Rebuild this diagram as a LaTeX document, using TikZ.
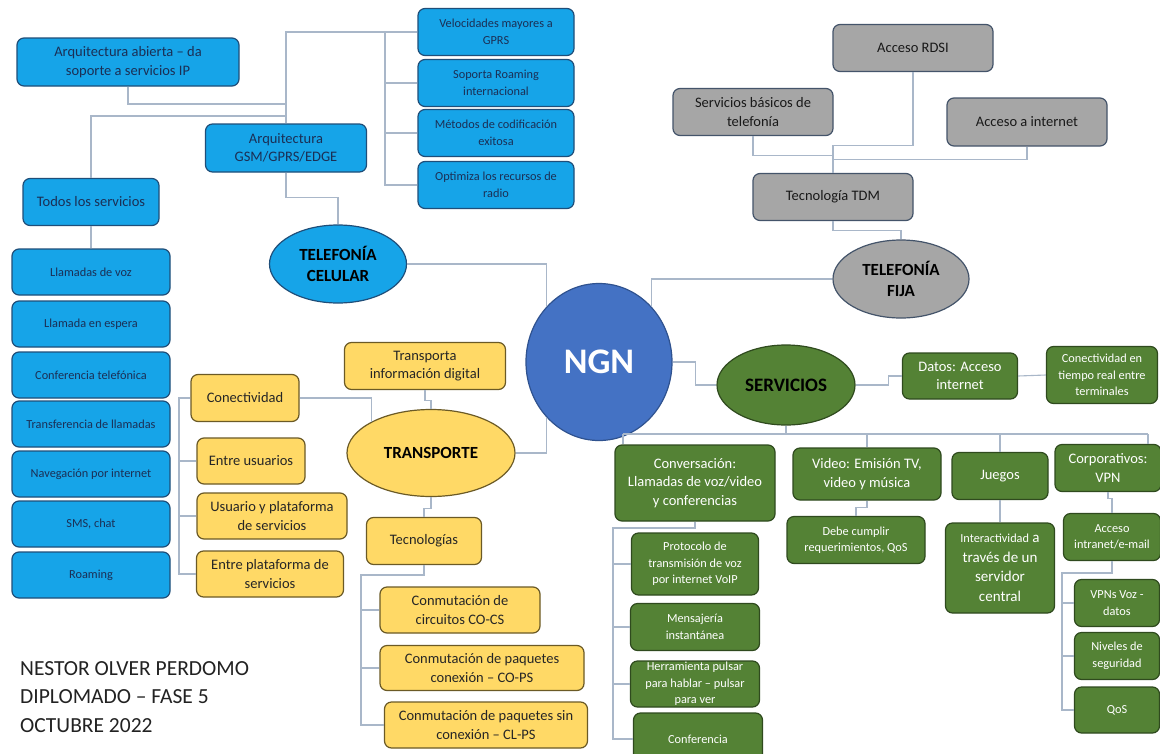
\documentclass[tikz,border=0pt]{standalone}
\usepackage{fontspec}
\setmainfont{Carlito}
\usetikzlibrary{shapes.geometric}

\definecolor{bluefill}{HTML}{16A4E8}
\definecolor{blueline}{HTML}{1F4E79}
\definecolor{bluetext}{HTML}{1B2F55}
\definecolor{yellowfill}{HTML}{FFD966}
\definecolor{yellowline}{HTML}{6B5A26}
\definecolor{grayfill}{HTML}{A6A6A6}
\definecolor{grayline}{HTML}{44546A}
\definecolor{greenfill}{HTML}{548235}
\definecolor{greenline}{HTML}{2F4A1E}
\definecolor{ngnfill}{HTML}{4472C4}
\definecolor{ngnline}{HTML}{2F528F}
\definecolor{linec}{HTML}{A9B7C9}
\definecolor{footc}{HTML}{222222}

\newcommand\fbig{\fontsize{14.5}{18.5}\selectfont}
\newcommand\fsmall{\fontsize{12.3}{16.5}\selectfont}
\newcommand\fhead{\fontsize{17}{21}\selectfont\bfseries}
\newcommand\ffoot{\fontsize{21.5}{28.5}\selectfont}

\tikzset{
  box/.style={rounded corners=7pt,line width=1.2pt,align=center,inner sep=0pt,font=\fbig},
  bluebox/.style={box,draw=blueline,fill=bluefill,text=bluetext},
  yellowbox/.style={box,draw=yellowline,fill=yellowfill,text=black!85},
  graybox/.style={box,draw=grayline,fill=grayfill,text=black!90},
  greenbox/.style={box,draw=greenline,fill=greenfill,text=white},
  topic/.style={ellipse,line width=1.2pt,align=center,inner sep=0pt,font=\fhead},
  conn/.style={draw=linec,line width=1.1pt},
}

\begin{document}
\begin{tikzpicture}[x=1pt,y=-1pt]
\clip (0,0) rectangle (1160,753);
\fill[white] (0,0) rectangle (1160,753);

% centro
\node[ellipse,draw=ngnline,fill=ngnfill,line width=1.2pt,minimum width=146,minimum height=157,text=white,font=\fontsize{36}{40}\selectfont\bfseries] (ngn) at (599,362) {NGN};

% telefonia celular
\node[bluebox,minimum width=222,minimum height=48] (abierta) at (128,62) {Arquitectura abierta – da\\soporte a servicios IP};
\node[bluebox,minimum width=161,minimum height=48] (gsm) at (286,148) {Arquitectura\\GSM/GPRS/EDGE};
\node[bluebox,minimum width=136,minimum height=47] (todos) at (91,202) {Todos los servicios};
\node[bluebox,font=\fsmall,minimum width=156,minimum height=47] (velo) at (496,32) {Velocidades mayores a\\GPRS};
\node[bluebox,font=\fsmall,minimum width=156,minimum height=47] (roam) at (496,83) {Soporta Roaming\\internacional};
\node[bluebox,font=\fsmall,minimum width=156,minimum height=47] (metod) at (496,133) {Métodos de codificación\\exitosa};
\node[bluebox,font=\fsmall,minimum width=156,minimum height=47] (optim) at (496,185) {Optimiza los recursos de\\radio};
\node[bluebox,font=\fsmall,minimum width=158,minimum height=46] (voz) at (91,272) {Llamadas de voz};
\node[bluebox,font=\fsmall,minimum width=158,minimum height=46] (espera) at (91,324) {Llamada en espera};
\node[bluebox,font=\fsmall,minimum width=158,minimum height=46] (confer) at (91,375) {Conferencia telefónica};
\node[bluebox,font=\fsmall,minimum width=158,minimum height=46] (transf) at (91,424) {Transferencia de llamadas};
\node[bluebox,font=\fsmall,minimum width=158,minimum height=46] (naveg) at (91,474) {Navegación por internet};
\node[bluebox,font=\fsmall,minimum width=158,minimum height=46] (sms) at (91,524) {SMS, chat};
\node[bluebox,font=\fsmall,minimum width=158,minimum height=46] (roaming) at (91,575) {Roaming};
\node[topic,draw=blueline,fill=bluefill,minimum width=137,minimum height=78] (cel) at (338,264) {TELEFONÍA\\CELULAR};

\coordinate (gtrunka) at (286,104);
\coordinate (gtrunkb) at (286,116);
\coordinate (bbk) at (385,32);
\draw[conn] (gsm.north) |- (velo.west);
\draw[conn] (bbk) |- (optim.west);
\draw[conn] (bbk |- roam.west) -- (roam.west);
\draw[conn] (bbk |- metod.west) -- (metod.west);
\draw[conn] (abierta.south) |- (gtrunka);
\draw[conn] (todos.north) |- (gtrunkb);
\draw[conn] (todos.south) -- (voz.north);
\draw[conn] (gsm.south) -- ++(0,25) -| (cel.north);
\draw[conn] (cel.east) -| (ngn.133);

% transporte
\node[yellowbox,minimum width=161,minimum height=47] (tdig) at (425,366) {Transporta\\información digital};
\node[topic,draw=yellowline,fill=yellowfill,minimum width=168,minimum height=87] (trans) at (431,453) {TRANSPORTE};
\node[yellowbox,minimum width=108,minimum height=47] (conect) at (245,398) {Conectividad};
\node[yellowbox,minimum width=108,minimum height=46] (entreu) at (251,461) {Entre usuarios};
\node[yellowbox,minimum width=150,minimum height=46] (usuplat) at (272,516) {Usuario y plataforma\\de servicios};
\node[yellowbox,minimum width=147,minimum height=46] (entreplat) at (270,574) {Entre plataforma de\\servicios};
\node[yellowbox,minimum width=115,minimum height=47] (tecno) at (424,541) {Tecnologías};
\node[yellowbox,minimum width=160,minimum height=46] (cocs) at (460,610) {Conmutación de\\circuitos CO-CS};
\node[yellowbox,minimum width=204,minimum height=45] (cops) at (482,668) {Conmutación de paquetes\\conexión – CO-PS};
\node[yellowbox,minimum width=203,minimum height=46] (clps) at (486,725) {Conmutación de paquetes sin\\conexión – CL-PS};

\coordinate (ybk) at (179,398);
\coordinate (tbk) at (361,575);
\draw[conn] (tdig.south) -- ++(0,10) -| (trans.north);
\draw[conn] (conect.east) -| (trans.152);
\draw[conn] (conect.west) -- (ybk) |- (entreplat.west);
\draw[conn] (ybk |- entreu.west) -- (entreu.west);
\draw[conn] (ybk |- usuplat.west) -- (usuplat.west);
\draw[conn] (trans.south) -- ++(0,11) -| (tecno.north);
\draw[conn] (tecno.south) |- (tbk) |- (clps.west);
\draw[conn] (tbk |- cocs.west) -- (cocs.west);
\draw[conn] (tbk |- cops.west) -- (cops.west);
\draw[conn] (trans.east) -| (ngn.227);

% telefonia fija
\node[graybox,minimum width=160,minimum height=47] (rdsi) at (913,48) {Acceso RDSI};
\node[graybox,minimum width=160,minimum height=47] (basic) at (753,112) {Servicios básicos de\\telefonía};
\node[graybox,minimum width=160,minimum height=48] (inet) at (1027,122) {Acceso a internet};
\node[graybox,minimum width=160,minimum height=47] (tdm) at (833,197) {Tecnología TDM};
\node[topic,draw=grayline,fill=grayfill,minimum width=136,minimum height=78] (fija) at (901,279) {TELEFONÍA\\FIJA};

\draw[conn] (rdsi.south) -- ++(0,73) -| (tdm.north);
\draw[conn] (basic.south) -- ++(0,19) -| (tdm.north);
\draw[conn] (inet.south) -- ++(0,13) -| (tdm.north);
\draw[conn] (tdm.south) -- ++(0,9) -| (fija.north);
\draw[conn] (fija.west) -| (ngn.47);

% servicios
\node[topic,draw=greenline,fill=greenfill,minimum width=138,minimum height=80,font=\fontsize{19}{23}\selectfont\bfseries] (serv) at (786,385) {SERVICIOS};
\node[greenbox,minimum width=115,minimum height=46] (datos) at (960,376) {Datos: Acceso\\internet};
\node[greenbox,font=\fsmall,minimum width=111,minimum height=57] (tiempo) at (1102,375) {Conectividad en\\tiempo real entre\\terminales};
\node[greenbox,minimum width=160,minimum height=76] (conv) at (695,483) {Conversación:\\Llamadas de voz/video\\y conferencias};
\node[greenbox,minimum width=148,minimum height=52] (video) at (867,474) {Video: Emisión TV,\\video y música};
\node[greenbox,minimum width=96,minimum height=47] (juegos) at (1000,476) {Juegos};
\node[greenbox,minimum width=106,minimum height=47] (corp) at (1108,468) {Corporativos:\\VPN};
\node[greenbox,font=\fsmall,minimum width=138,minimum height=47] (debe) at (856,540) {Debe cumplir\\requerimientos, QoS};
\node[greenbox,font=\fontsize{15}{19.5}\selectfont,minimum width=109,minimum height=90] (inter) at (1000,568) {{\fsmall Interactividad} a\\través de un\\servidor\\central};
\node[greenbox,font=\fsmall,minimum width=97,minimum height=47] (intra) at (1112,537) {Acceso\\intranet/e-mail};
\node[greenbox,font=\fsmall,minimum width=85,minimum height=47] (vpns) at (1117,603) {VPNs Voz -\\datos};
\node[greenbox,font=\fsmall,minimum width=85,minimum height=47] (nivel) at (1117,656) {Niveles de\\seguridad};
\node[greenbox,font=\fsmall,minimum width=85,minimum height=46] (qos) at (1117,710) {QoS};
\node[greenbox,font=\fsmall,minimum width=127,minimum height=62] (voip) at (695,564) {Protocolo de\\transmisión de voz\\por internet VoIP};
\node[greenbox,font=\fsmall,minimum width=129,minimum height=47] (mens) at (695,627) {Mensajería\\instantánea};
\node[greenbox,font=\fsmall,minimum width=129,minimum height=46] (herr) at (695,684) {Herramienta pulsar\\para hablar – pulsar\\para ver};
\node[greenbox,font=\fsmall,minimum width=129,minimum height=52] (confe) at (698,739) {Conferencia};

\coordinate (gbus) at (786,434);
\coordinate (busl) at (623,434);
\coordinate (busr) at (1148,434);
\coordinate (vbk) at (1062,573);
\coordinate (cbk) at (613,528);
\draw[conn] (ngn.east) -- ++(23,0) |- (serv.west);
\draw[conn] (serv.east) -- ++(33,0) |- (datos.west);
\draw[conn] (datos.east) -- (tiempo.west);
\draw[conn] (serv.south) -- (gbus);
\draw[conn] (busl) -- (busr);
\draw[conn] (busl) -- (busl |- conv.north);
\draw[conn] (gbus -| video.north) -- (video.north);
\draw[conn] (gbus -| juegos.north) -- (juegos.north);
\draw[conn] (busr) -- (busr |- corp.north);
\draw[conn] (video.south) -- ++(0,7) -| (debe.north);
\draw[conn] (juegos.south) -- (inter.north);
\draw[conn] (corp.south) -- ++(0,6) -| (intra.north);
\draw[conn] (intra.south) |- (vbk) |- (qos.west);
\draw[conn] (vbk |- vpns.west) -- (vpns.west);
\draw[conn] (vbk |- nivel.west) -- (nivel.west);
\draw[conn] (conv.south) |- (cbk) |- (confe.west);
\draw[conn] (cbk |- voip.west) -- (voip.west);
\draw[conn] (cbk |- mens.west) -- (mens.west);
\draw[conn] (cbk |- herr.west) -- (herr.west);

% autor
\node[anchor=north west,align=left,inner sep=0pt,font=\ffoot,text=footc] (autor) at (20,661) {NESTOR OLVER PERDOMO\\DIPLOMADO – FASE 5\\OCTUBRE 2022};
\end{tikzpicture}
\end{document}
